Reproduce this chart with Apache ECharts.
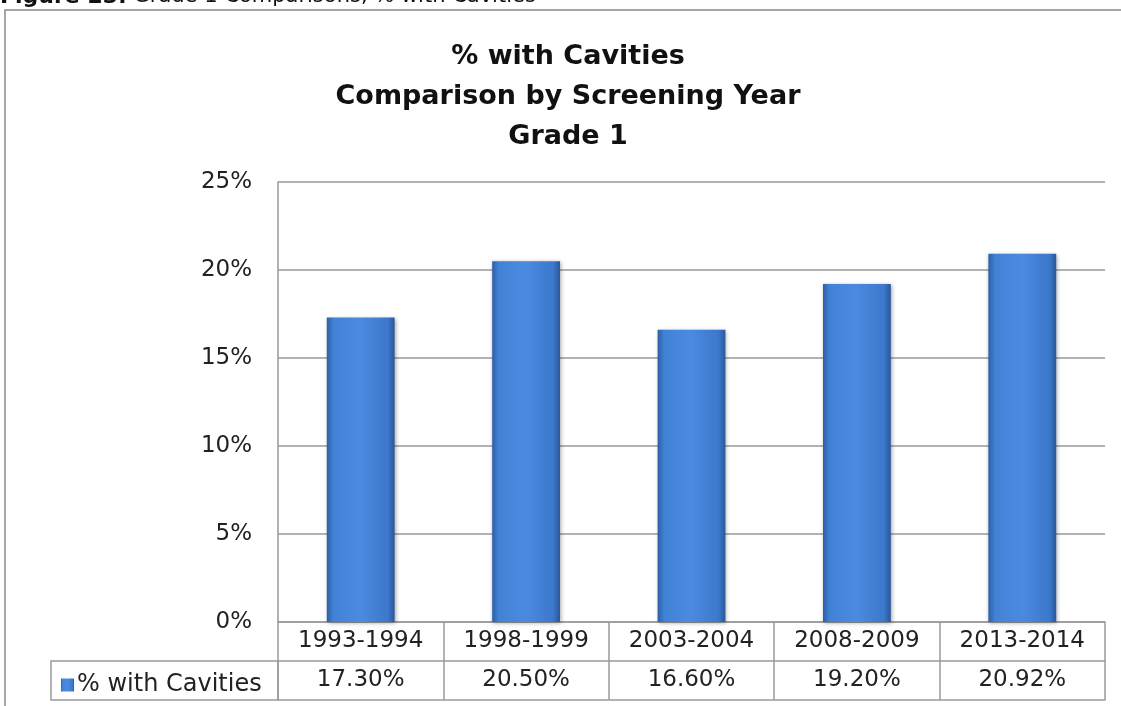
<!DOCTYPE html>
<html>
<head>
<meta charset="utf-8">
<script src="https://cdn.jsdelivr.net/npm/echarts@6/dist/echarts.min.js"></script>
<style>
html,body{margin:0;padding:0;background:#fff;}
#c{width:1121px;height:706px;}
</style>
</head>
<body>
<div id="c"></div>
<script>
const categories = ['1993-1994','1998-1999','2003-2004','2008-2009','2013-2014'];
const seriesName = '% with Cavities';
const values = [17.30, 20.50, 16.60, 19.20, 20.92];
const yTicks = { min: 0, max: 25, interval: 5 };
const titleLines = ['% with Cavities','Comparison by Screening Year','Grade 1'];

const valueLabels = values.map(v => v.toFixed(2) + '%');
const FONT = 'DejaVu Sans';
const GRID_COLOR = '#9a9a9a';

const chart = echarts.init(document.getElementById('c'), null, {renderer:'canvas'});
const barColor = new echarts.graphic.LinearGradient(0,0,1,0,[
  {offset:0, color:'#2c5fa8'},
  {offset:0.1, color:'#4282d6'},
  {offset:0.5, color:'#4a8ae0'},
  {offset:0.9, color:'#3c78cb'},
  {offset:1, color:'#2a5699'}
]);

chart.setOption({
  animation:false,
  backgroundColor:'#fff',
  title:{
    text: titleLines.join('\n'),
    left: 563, textAlign:'center', top: 32,
    textStyle:{fontFamily:'DejaVu Sans', fontWeight:'bold', fontSize:27, lineHeight:40, color:'#111'}
  },
  graphic:[
    {type:'rect', shape:{x:5,y:10,width:1140,height:720}, style:{fill:'none', stroke:'#8a8a8a', lineWidth:1.5}, z:0},
    {type:'text', left:0, top:-14, style:{
      text:'{b|Figure 23:}{r| Grade 1 Comparisons, % with Cavities}',
      rich:{
        b:{fontFamily:'DejaVu Sans', fontWeight:'bold', fontSize:22, fill:'#111'},
        r:{fontFamily:FONT, fontSize:21, fill:'#111'}
      }
    }},
    {type:'rect', shape:{x:51,y:661,width:227,height:39}, style:{fill:'none', stroke:GRID_COLOR, lineWidth:1.5}, z:5}
  ],
  legend:{
    left: 56, top: 668, icon:'rect', itemWidth:13, itemHeight:13, itemGap:4,
    data:[seriesName],
    textStyle:{fontFamily:FONT, fontSize:24, color:'#222', padding:[0,0,0,-2]}
  },
  grid:{left:278, right:16, top:182, bottom:84},
  xAxis:[
    {type:'category', data:categories, position:'bottom', offset:0,
     axisLine:{show:true, lineStyle:{color:GRID_COLOR, width:1.5}},
     axisTick:{show:true, length:39, interval:0, lineStyle:{color:GRID_COLOR, width:1.5}},
     axisLabel:{interval:0, margin:8, fontFamily:FONT, fontSize:23, color:'#222'}},
    {type:'category', data:valueLabels, position:'bottom', offset:39,
     axisLine:{show:true, lineStyle:{color:GRID_COLOR, width:1.5}},
     axisTick:{show:true, length:39, interval:0, lineStyle:{color:GRID_COLOR, width:1.5}},
     axisLabel:{interval:0, margin:8, fontFamily:FONT, fontSize:23, color:'#222'}},
    {type:'category', data:categories, position:'bottom', offset:78,
     axisLine:{show:true, lineStyle:{color:GRID_COLOR, width:1.5}},
     axisTick:{show:false}, axisLabel:{show:false}}
  ],
  yAxis:{
    type:'value', min:yTicks.min, max:yTicks.max, interval:yTicks.interval,
    axisLine:{show:true, lineStyle:{color:GRID_COLOR, width:1.5}},
    axisTick:{show:false},
    splitLine:{show:true, lineStyle:{color:GRID_COLOR, width:1.5}},
    axisLabel:{formatter:'{value}%', margin:26, fontFamily:FONT, fontSize:23, color:'#222'}
  },
  series:[{
    name:seriesName, type:'bar', data:values, xAxisIndex:0,
    barWidth:'41%',
    itemStyle:{color:barColor, shadowBlur:4, shadowColor:'rgba(0,0,0,0.35)', shadowOffsetX:1, shadowOffsetY:1}
  }]
});
</script>
</body>
</html>
